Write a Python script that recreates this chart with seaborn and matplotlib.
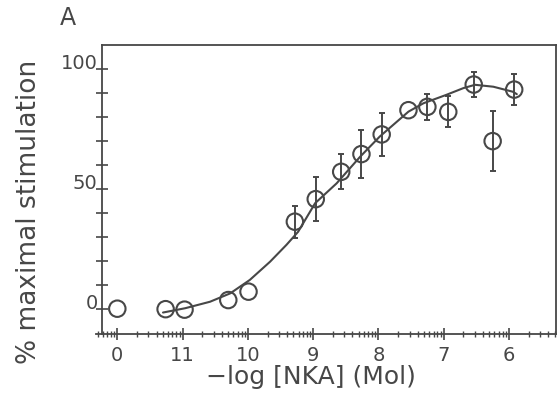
import numpy as np
import pandas as pd
import seaborn as sns
from matplotlib import pyplot as plt

# data (x as -log[NKA], control plotted at the "0" slot = 12)
point_p = [12.0, 11.26, 10.97, 10.30, 9.99, 9.28, 8.96, 8.57, 8.26, 7.95, 7.54, 7.25, 6.93, 6.54, 6.25, 5.92]
point_y = [0.0, -0.2, -0.4, 3.6, 7.1, 36.3, 45.7, 57.1, 64.5, 72.7, 82.8, 84.2, 82.1, 93.5, 69.9, 91.4]
point_err = [0, 0, 0, 0, 0, 6.7, 9.2, 7.3, 10.1, 9.1, 0, 5.3, 6.5, 5.2, 12.6, 6.6]

curve_p = [11.30, 10.96, 10.58, 10.27, 9.97, 9.66, 9.41, 9.23, 8.97, 8.64, 8.28, 7.98, 7.54, 7.31, 6.96, 6.70, 6.52, 6.24, 5.94, 5.88]
curve_y = [-1.6, 0.2, 2.9, 6.4, 12.0, 19.6, 26.6, 32.1, 44.0, 52.3, 63.4, 71.8, 82.2, 85.7, 89.2, 92.0, 93.4, 92.6, 90.5, 89.5]

xtick_p = [12, 11, 10, 9, 8, 7, 6]
xtick_labels = ['0', '11', '10', '9', '8', '7', '6']

pts = pd.DataFrame({'conc': 10.0 ** -np.array(point_p), 'y': point_y, 'err': point_err})
fit = pd.DataFrame({'conc': 10.0 ** -np.array(curve_p), 'y': curve_y})

sns.set_style('white')
plt.rcParams['font.family'] = ['DejaVu Sans']
ink = '#474747'

fig = plt.figure(figsize=(5.59, 4.05), dpi=100)
ax = fig.add_axes([0.1725, 0.1741, 0.8222, 0.7136])

# left axis line sits slightly inside the x range (set first: it resets ticks)
ax.set_xscale('log')
x_left = 10 ** -12.239
ax.spines['left'].set_position(('data', x_left))

# fitted curve
sns.lineplot(data=fit, x='conc', y='y', sort=False, color=ink, lw=1.5, ax=ax, zorder=2)

# error bars (only where there is one)
eb = pts[pts['err'] > 0]
ax.errorbar(eb['conc'], eb['y'], yerr=eb['err'], fmt='none', ecolor=ink,
            elinewidth=1.4, capsize=2.5, capthick=1.4, zorder=3)

# open circles
sns.scatterplot(data=pts, x='conc', y='y', marker='o', s=140, facecolor='none',
                edgecolor=ink, linewidth=1.5, ax=ax, zorder=4)

ax.set_xscale('log')
ax.set_xlim(10 ** -12.32, 10 ** -5.279)
ax.set_ylim(-10.76, 109.8)

ax.set_xticks(10.0 ** -np.array(xtick_p, dtype=float))
ax.set_xticklabels(xtick_labels)
ax.xaxis.set_minor_locator(plt.LogLocator(base=10, subs=np.arange(2, 10), numticks=30))
ax.xaxis.set_minor_formatter(plt.NullFormatter())

ax.set_yticks(np.arange(0, 101, 10))
ax.set_yticklabels(['0', '', '', '', '', '50', '', '', '', '', '100'])

ax.tick_params(axis='both', which='major', direction='inout', length=8, width=1.2,
               color=ink, labelcolor=ink, labelsize=14, bottom=True, left=True)
ax.tick_params(axis='x', which='minor', direction='inout', length=5, width=1.0,
               color=ink, bottom=True)
ax.tick_params(axis='x', which='major', pad=4)
ax.tick_params(axis='y', which='major', pad=-1)

ax.spines['top'].set_bounds(x_left, 10 ** -5.279)
for s in ax.spines.values():
    s.set_color(ink)
    s.set_linewidth(1.3)

# y labels sit on their ticks (baseline) in the original
for t in ax.yaxis.get_major_ticks():
    t.label1.set_verticalalignment('baseline')

ax.set_xlabel('\u2212log [NKA] (Mol)', fontsize=18, color=ink)
ax.xaxis.set_label_coords(0.467, -0.105)
ax.set_ylabel('% maximal stimulation', fontsize=19, color=ink)
ax.yaxis.set_label_coords(-0.118, 0.424)

fig.text(0.107, 0.955, 'A', fontsize=17, color=ink, va='center', ha='left')

fig.savefig('out.png', dpi=100)
